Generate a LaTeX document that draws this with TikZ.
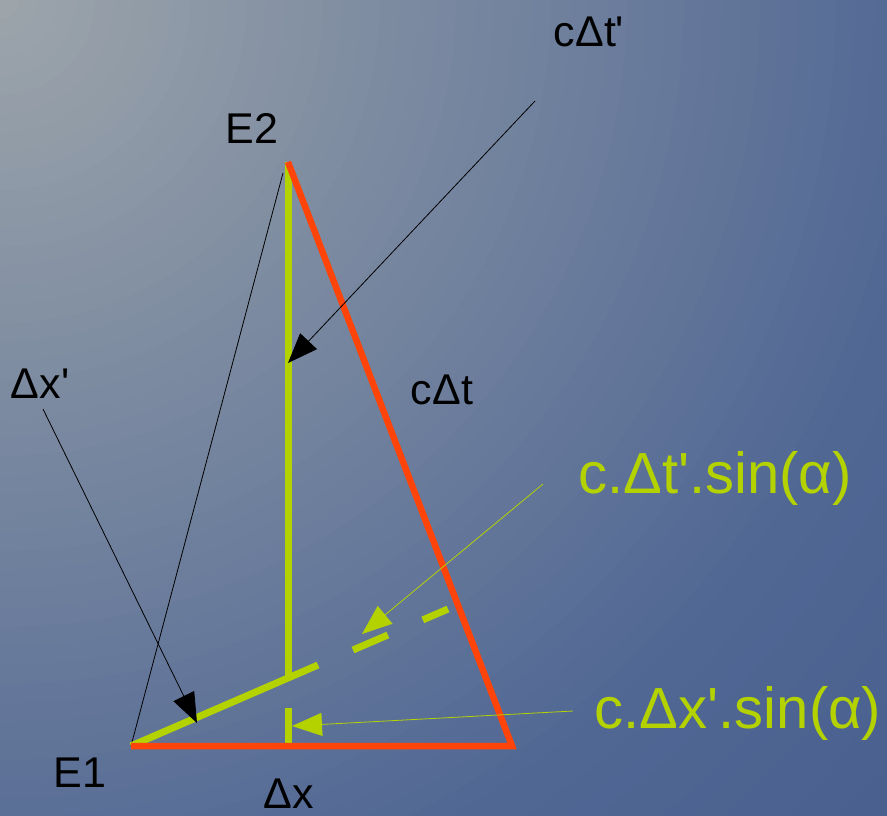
\documentclass[tikz,border=0pt]{standalone}
\usepackage{fontspec}
\setmainfont{Liberation Sans}
\usepackage{xcolor}
\usetikzlibrary{arrows.meta,calc}
\definecolor{sketchred}{RGB}{255,68,10}
\definecolor{sketchyellow}{RGB}{180,210,0}
\definecolor{bglight}{RGB}{158,166,171}
\definecolor{bgblue}{RGB}{80,103,148}
\definecolor{bgdeep}{RGB}{74,97,143}
\newcommand{\blackfont}{\fontsize{43}{50}\selectfont}
\newcommand{\yellowfont}{\fontsize{58}{66}\selectfont}
\newcommand{\pr}{\textquotesingle}

\begin{document}
\begin{tikzpicture}[x=1pt,y=-1pt,
    redline/.style={sketchred, line width=6.5pt},
    yline/.style={sketchyellow, line width=7pt},
    pointer/.style={-{Triangle[length=30pt,width=23pt]}, line width=0.8pt},
    blabel/.style={anchor=base, font=\blackfont},
    ylabel/.style={anchor=base, font=\yellowfont, text=sketchyellow}]
    % --- Background ---
    \useasboundingbox (0,0) rectangle (887,815);
    \begin{scope}
        \clip (0,0) rectangle (887,815);
        \fill[bgdeep] (0,0) rectangle (887,815);
        \foreach \i in {0,...,13} {
            \pgfmathsetmacro{\rad}{1210-20*\i}
            \pgfmathsetmacro{\mixp}{100*\i/13}
            \fill[bgblue!\mixp!bgdeep] (0,0) circle (\rad pt);
        }
        \foreach \i in {1,...,49} {
            \pgfmathsetmacro{\rad}{950-19*\i}
            \pgfmathsetmacro{\mixp}{100*\i/50}
            \fill[bglight!\mixp!bgblue] (0,0) circle (\rad pt);
        }
    \end{scope}

    % --- Points ---
    \coordinate (E1) at (131,746);
    \coordinate (E2) at (288,162);
    \coordinate (B) at (512,746);
    \coordinate (F) at (288,678);
    \coordinate (T) at (318,665);
    \coordinate (S) at (353,650);
    \coordinate (D) at (448,609);
    \coordinate (Ka) at (288,708);
    \coordinate (Kb) at (288,747);
    \coordinate (E2s) at (283,173);

    % --- Triangle ---
    \draw[black, line width=0.8pt] (E1) -- (E2s);
    \draw[yline] (E2) -- (F);
    \draw[yline] (E1) -- (T);
    \draw[yline, dash pattern=on 38pt off 38pt] (S) -- (D);
    \draw[yline] (Ka) -- (Kb);
    \draw[redline, line join=miter] (E1) -- (B) -- (E2);

    % --- Labels ---
    \node[blabel] (lE2) at (252,143) {E2};
    \node[blabel] (lE1) at (80,787) {E1};
    \node[blabel] (ldx) at (289,808) {Δx};
    \node[blabel] (lct) at (442,404) {cΔt};
    \node[blabel] (lctp) at (589,46) {cΔt\pr};
    \node[blabel] (ldxp) at (40,398) {Δx\pr};
    \node[ylabel] (lts) at (715,493) {c.Δt\pr.sin(α)};
    \node[ylabel] (lxs) at (738,728) {c.Δx\pr.sin(α)};

    % --- Pointers ---
    \coordinate (ctpA) at (535,101);
    \coordinate (ctpB) at (288,363);
    \coordinate (dxpA) at (43,409);
    \coordinate (dxpB) at (197,723);
    \coordinate (tsA) at (543,484);
    \coordinate (tsB) at (362,634);
    \coordinate (xsA) at (573,711);
    \coordinate (xsB) at (292,726);
    \draw[pointer] (ctpA) -- (ctpB);
    \draw[pointer] (dxpA) -- (dxpB);
    \draw[pointer, sketchyellow] (tsA) -- (tsB);
    \draw[pointer, sketchyellow] (xsA) -- (xsB);
\end{tikzpicture}
\end{document}
